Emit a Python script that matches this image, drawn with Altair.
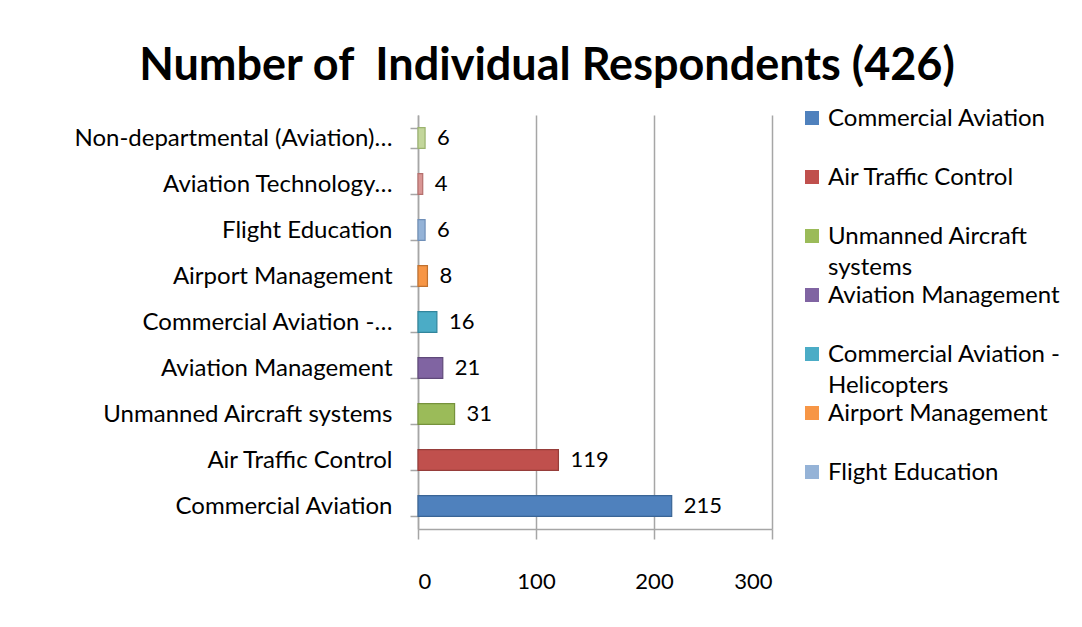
import altair as alt
import pandas as pd

title_text = "Number of \u00a0Individual Respondents (426)"

categories = [
    "Commercial Aviation",
    "Air Traffic Control",
    "Unmanned Aircraft systems",
    "Aviation Management",
    "Commercial Aviation - Helicopters",
    "Airport Management",
    "Flight Education",
    "Aviation Technology…",
    "Non-departmental (Aviation)…",
]
counts = [215, 119, 31, 21, 16, 8, 6, 4, 6]
axis_labels = [
    "Commercial Aviation",
    "Air Traffic Control",
    "Unmanned Aircraft systems",
    "Aviation Management",
    "Commercial Aviation -…",
    "Airport Management",
    "Flight Education",
    "Aviation Technology…",
    "Non-departmental (Aviation)…",
]
colors = ["#4F81BD", "#C0504D", "#9BBB59", "#8064A2", "#4BACC6",
          "#F79646", "#95B3D7", "#D99694", "#C3D69B"]
edge_colors = ["#3A6596", "#963D3A", "#76923C", "#5F497A", "#31859C",
               "#C0712F", "#6F8FB8", "#B56F6D", "#9BB36E"]
legend_cats = categories[:7]
legend_texts = [
    "Commercial Aviation",
    "Air Traffic Control",
    "Unmanned Aircraft\nsystems",
    "Aviation Management",
    "Commercial Aviation -\nHelicopters",
    "Airport Management",
    "Flight Education",
]
x_ticks = [0, 100, 200, 300]

df = pd.DataFrame({"cat": categories, "label": axis_labels, "count": counts})
legend_df = pd.DataFrame({"cat": legend_cats, "text": legend_texts,
                          "idx": list(range(len(legend_cats)))})

FONT = "Lato"
GRID = "#A6A6A6"
TXT = 24

color_scale = alt.Scale(domain=categories, range=colors)
stroke_scale = alt.Scale(domain=categories, range=edge_colors)

y_enc = alt.Y(
    "label:N",
    sort=axis_labels[::-1],
    scale=alt.Scale(paddingInner=0.55, paddingOuter=0.275),
    axis=alt.Axis(
        title=None, tickBand="extent", domainColor=GRID, domainWidth=1.5,
        tickColor=GRID, tickWidth=1.5, tickSize=8, labelPadding=18,
        labelFontSize=TXT, labelFont=FONT, labelColor="black", labelLimit=500,
    ),
)
x_enc = alt.X(
    "count:Q",
    scale=alt.Scale(domain=[0, 300]),
    axis=alt.Axis(
        title=None, values=x_ticks, grid=True, gridColor=GRID, gridWidth=1.5,
        domainColor=GRID, domainWidth=1.5, tickColor=GRID, tickWidth=1.5,
        tickSize=10, labelPadding=32, labelFontSize=22, labelFont=FONT,
        labelColor="black",
    ),
)

bars = alt.Chart(df).mark_bar(strokeWidth=1.2).encode(
    x=x_enc,
    y=y_enc,
    color=alt.Color("cat:N", scale=color_scale, legend=None),
    stroke=alt.Stroke("cat:N", scale=stroke_scale, legend=None),
)

values = alt.Chart(df).mark_text(
    align="left", baseline="middle", dx=12, fontSize=22, font=FONT, color="black"
).encode(
    x="count:Q",
    y=alt.Y("label:N", sort=axis_labels[::-1]),
    text="count:Q",
)

main = alt.layer(bars, values)

leg_y = alt.Y("idx:Q", scale=alt.Scale(domain=[0, 6], range=[3, 357]), axis=None)

leg_sq = alt.Chart(legend_df).mark_square(size=196, opacity=1).encode(
    x=alt.value(394),
    y=leg_y,
    color=alt.Color("cat:N", scale=color_scale, legend=None),
)
leg_txt = alt.Chart(legend_df).mark_text(
    align="left", baseline="top", dy=-11, fontSize=TXT, font=FONT,
    color="black", lineBreak="\n", lineHeight=31,
).encode(
    x=alt.value(410),
    y=leg_y,
    text="text:N",
)

chart = alt.layer(main, leg_sq, leg_txt).resolve_scale(y="independent").properties(
    width=354,
    height=414,
    padding={"left": 410, "top": 107, "right": 302, "bottom": 90},
    autosize=alt.AutoSizeParams(type="none"),
    title=alt.Title(
        title_text, font=FONT, fontSize=45, fontWeight="bold", color="black",
        anchor="middle", dx=-48, offset=14,
    ),
).configure_view(stroke=None)

chart.save("out.html", embed_options={"renderer": "svg", "actions": False})
